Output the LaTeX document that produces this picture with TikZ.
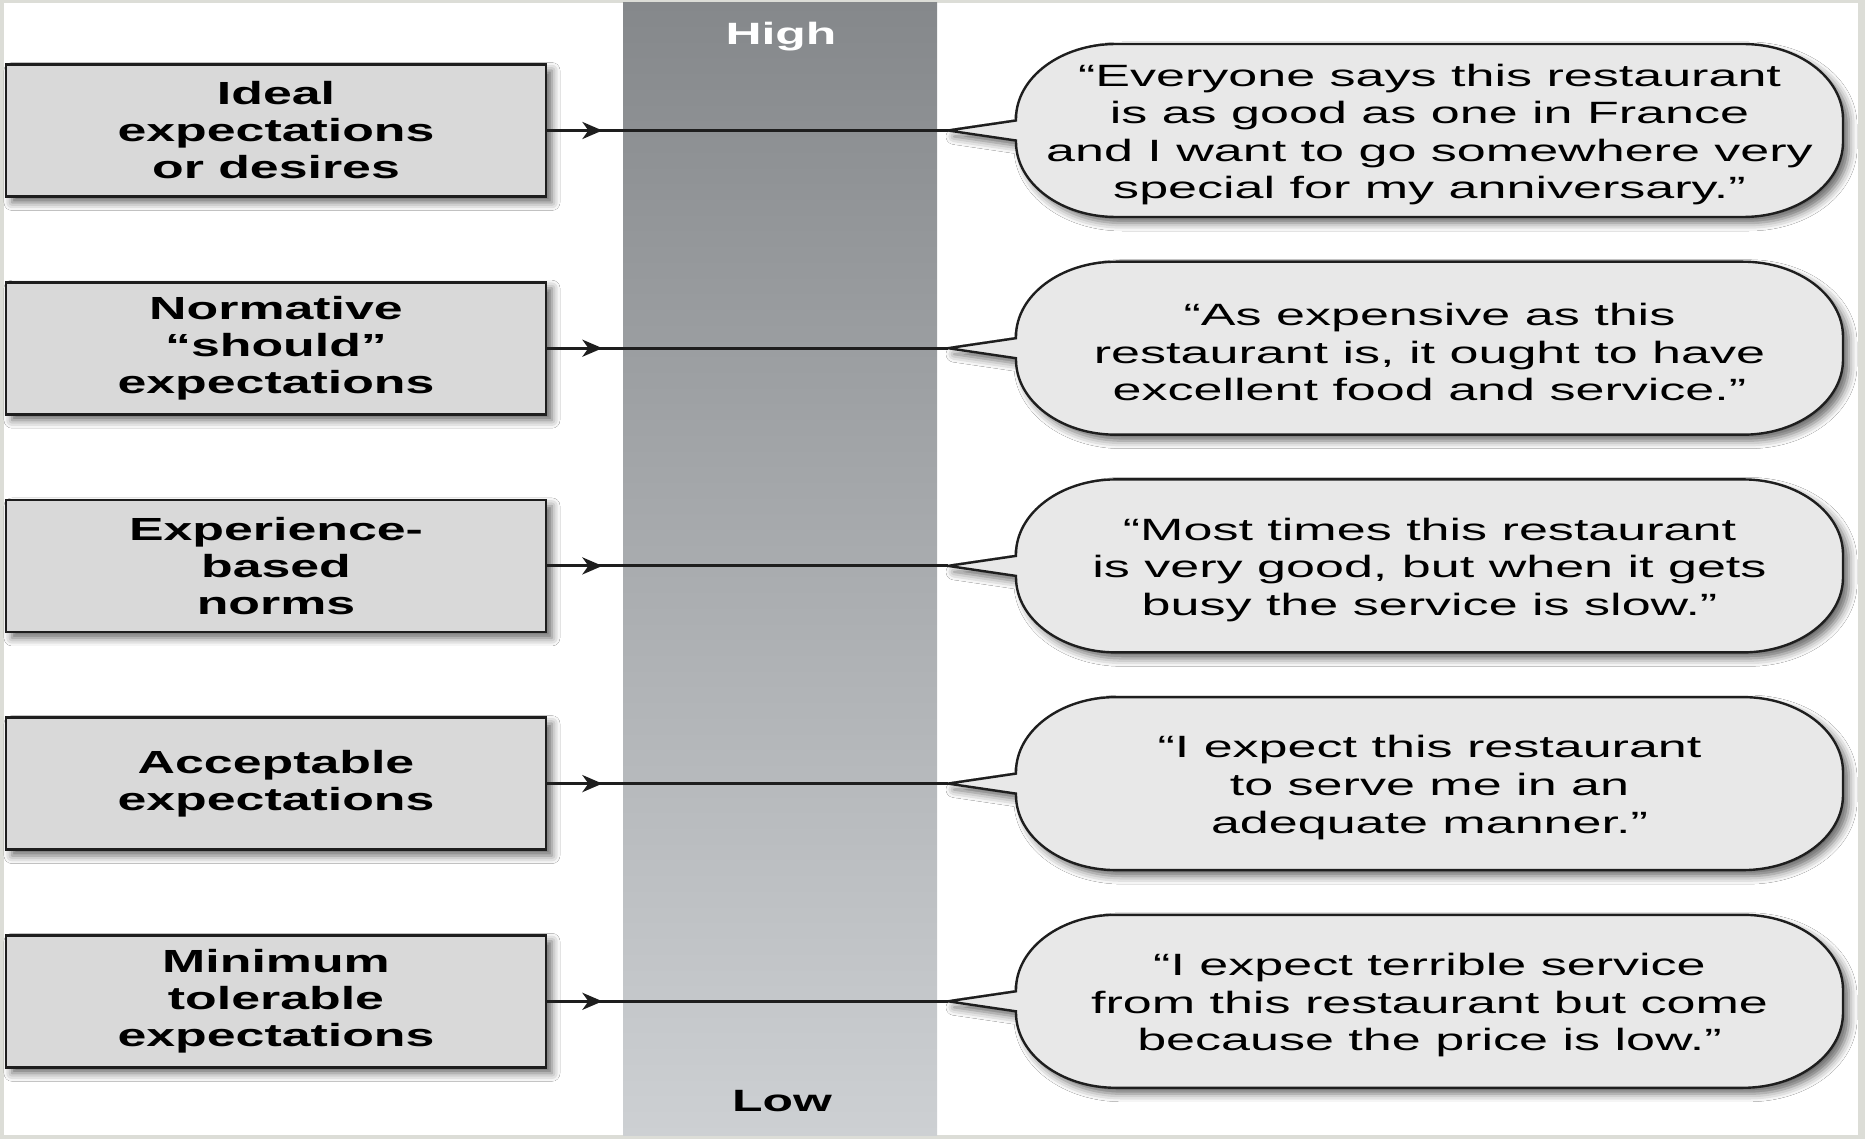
\documentclass[tikz,border=0pt]{standalone}
\usepackage{fontspec}
\setmainfont{Liberation Sans}
\newfontfamily\widebold{Liberation Sans}[FakeStretch=1.62]
\newfontfamily\wideplain{Liberation Sans}[FakeStretch=1.69]
\usetikzlibrary{arrows.meta,shadows.blur,decorations.markings}

\definecolor{framegray}{HTML}{DCDDD7}
\definecolor{bartop}{HTML}{85888B}
\definecolor{barbot}{HTML}{CDD0D3}
\definecolor{boxfill}{HTML}{D9D9D9}
\definecolor{bubblefill}{HTML}{E8E8E8}
\definecolor{ink}{HTML}{1E1E1E}

\begin{document}
\begin{tikzpicture}[x=0.5pt,y=-0.5pt,
  softshadow/.style={blur shadow={shadow xshift=3pt,shadow yshift=-3pt,shadow blur radius=4pt,shadow opacity=60}},
  levelbox/.style={draw=ink,line width=1.4pt,fill=boxfill,minimum width=270pt,minimum height=66pt,
    inner sep=0pt,align=center,font=\widebold\bfseries\fontsize{16}{18.5}\selectfont,softshadow},
  bubble/.style={draw=ink,line width=1.2pt,fill=bubblefill,softshadow},
  quotetext/.style={align=center,inner sep=0pt,yshift=-2pt,font=\wideplain\fontsize{15.4}{18.8}\selectfont},
  conn/.style={draw=ink,line width=1.5pt,postaction={decorate},
    decoration={markings,mark=at position 27.5pt with {\arrow{Stealth[length=10pt,width=8.5pt,inset=3pt]}}}},
  scalelabel/.style={font=\widebold\bfseries\fontsize{15.4}{18}\selectfont,anchor=base}
]
\useasboundingbox (0,0) rectangle (1865,1139);

% frame and page
\fill[framegray] (0,0) rectangle (1865,1139);
\fill[white] (4,3) rectangle (1858,1135);

% high-to-low scale bar
\shade[top color=bartop,bottom color=barbot] (623,3) rectangle (937,1135);
\node[scalelabel,text=white] (high) at (781,45) {High};
\node[scalelabel,text=black] (low) at (782,1111) {Low};

% levels of expectation
\node[levelbox] (b1) at (276,130.5) {Ideal\\expectations\\or desires};
\node[levelbox] (b2) at (276,348.2) {Normative\\“should”\\expectations};
\node[levelbox] (b3) at (276,565.9) {Experience-\\based\\norms};
\node[levelbox] (b4) at (276,783.6) {Acceptable\\expectations};
\node[levelbox] (b5) at (276,1001.3) {Minimum\\tolerable\\expectations};

% speech bubbles with their pointer tips
\foreach \i/\cy in {1/130.5,2/348.2,3/565.9,4/783.6,5/1001.3}{
  \coordinate (t\i) at (948,\cy);
  \draw[bubble] (1016,\cy-10) -- (1016,\cy-11.5)
    .. controls (1016,\cy-52.9) and (1060.8,\cy-86.5) .. (1116,\cy-86.5)
    -- (1743,\cy-86.5)
    .. controls (1798.2,\cy-86.5) and (1843,\cy-52.9) .. (1843,\cy-11.5)
    -- (1843,\cy+11.5)
    .. controls (1843,\cy+52.9) and (1798.2,\cy+86.5) .. (1743,\cy+86.5)
    -- (1116,\cy+86.5)
    .. controls (1060.8,\cy+86.5) and (1016,\cy+52.9) .. (1016,\cy+11.5)
    -- (1016,\cy+10) -- (t\i) -- cycle;
  \draw[conn] (b\i.east) -- (t\i);
}

\node[quotetext] (q1) at (1429.5,130.5) {“Everyone says this restaurant\\is as good as one in France\\and I want to go somewhere very\\special for my anniversary.”};
\node[quotetext] (q2) at (1429.5,348.2) {“As expensive as this\\restaurant is, it ought to have\\excellent food and service.”};
\node[quotetext] (q3) at (1429.5,565.9) {“Most times this restaurant\\is very good, but when it gets\\busy the service is slow.”};
\node[quotetext] (q4) at (1429.5,783.6) {“I expect this restaurant\\to serve me in an\\adequate manner.”};
\node[quotetext] (q5) at (1429.5,1001.3) {“I expect terrible service\\from this restaurant but come\\because the price is low.”};
\end{tikzpicture}
\end{document}
